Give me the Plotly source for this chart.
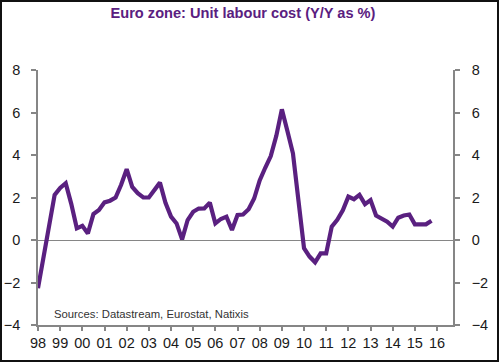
import plotly.graph_objects as go

# Quarterly data, 1998Q1 .. 2015Q4
start_year = 1998
ulc_yoy = [
    -2.27, -0.8, 0.7, 2.12, 2.45, 2.67, 1.7, 0.55,
    0.67, 0.31, 1.22, 1.41, 1.77, 1.85, 2.0, 2.6,
    3.33, 2.5, 2.2, 2.0, 2.0, 2.35, 2.7, 1.75,
    1.1, 0.78, 0.03, 0.94, 1.33, 1.48, 1.49, 1.76,
    0.78, 0.99, 1.1, 0.47, 1.18, 1.2, 1.45, 1.95,
    2.8, 3.4, 3.95, 4.9, 6.15, 5.13, 4.08, 1.85,
    -0.39, -0.78, -1.05, -0.63, -0.63, 0.63, 0.95, 1.4,
    2.04, 1.92, 2.12, 1.69, 1.88, 1.15, 1.02, 0.86,
    0.63, 1.05, 1.15, 1.2, 0.74, 0.74, 0.74, 0.91,
]
quarters = [start_year + i * 0.25 for i in range(len(ulc_yoy))]

year_ticks = list(range(1998, 2017))
year_labels = [f"{y % 100:02d}" for y in year_ticks]
y_ticks = [-4, -2, 0, 2, 4, 6, 8]

title_text = "Euro zone: Unit labour cost (Y/Y as %)"
source_text = "Sources: Datastream, Eurostat, Natixis"

purple = "#5A2080"
axis_gray = "#868686"
font_family = "Liberation Sans, Arial, sans-serif"

fig = go.Figure()
fig.add_trace(go.Scatter(x=quarters, y=ulc_yoy, mode="lines",
                         line=dict(color=purple, width=4.2), showlegend=False))
fig.add_trace(go.Scatter(x=quarters, y=ulc_yoy, mode="lines", yaxis="y2",
                         line=dict(color="rgba(0,0,0,0)", width=0),
                         showlegend=False, hoverinfo="skip"))

L, R, T, B = 38, 47, 70, 38
W, H = 500, 363
pw, ph = W - L - R, H - T - B

fig.update_layout(
    width=W, height=H, autosize=False,
    margin=dict(l=L, r=R, t=T, b=B, pad=0),
    paper_bgcolor="white", plot_bgcolor="white",
    font=dict(family=font_family, size=14, color="#1a1a1a"),
    title=dict(text=f"<b>{title_text}</b>", x=243 / W, xanchor="center",
               y=1 - 13 / H, yanchor="middle",
               font=dict(family=font_family, size=14.6, color=purple)),
    xaxis=dict(range=[1998, 2016.72], tickmode="array", tickvals=year_ticks,
               ticktext=year_labels, showgrid=False, zeroline=False,
               automargin=False,
               showline=True, linecolor=axis_gray, linewidth=1.5,
               ticks="outside", ticklen=4, tickcolor=axis_gray, tickwidth=1.5,
               tickfont=dict(size=14.5, color="#1a1a1a")),
    yaxis=dict(range=[-4, 8], tickvals=y_ticks, showgrid=False,
               zeroline=True, zerolinecolor=axis_gray, zerolinewidth=1.2,
               automargin=False,
               showline=True, linecolor=axis_gray, linewidth=1.5,
               ticks="outside", ticklen=5, tickcolor=axis_gray, tickwidth=1.5,
               ticklabelstandoff=8,
               tickfont=dict(size=14.5, color="#1a1a1a")),
    yaxis2=dict(range=[-4, 8], tickvals=y_ticks, overlaying="y", side="right",
                showgrid=False, zeroline=False, automargin=False,
                showline=True, linecolor=axis_gray, linewidth=1.5,
                ticks="outside", ticklen=5, tickcolor=axis_gray, tickwidth=1.5,
                ticklabelstandoff=9,
                tickfont=dict(size=14.5, color="#1a1a1a")),
)

fig.add_annotation(text=source_text, xref="paper", yref="paper",
                   x=(52 - L) / pw, y=(H - B - 314) / ph, xanchor="left",
                   yanchor="middle", showarrow=False,
                   font=dict(family=font_family, size=11.3, color="#333333"))

fig.add_shape(type="rect", xref="paper", yref="paper",
              x0=(1 - L) / pw, x1=(498 - L) / pw,
              y0=(H - B - 361) / ph, y1=(H - B - 1) / ph,
              line=dict(color="#111111", width=2), fillcolor="rgba(0,0,0,0)")

fig.write_html("out.html", config={"displayModeBar": False},
               post_script="document.body.style.margin='0';document.body.style.padding='0';")
